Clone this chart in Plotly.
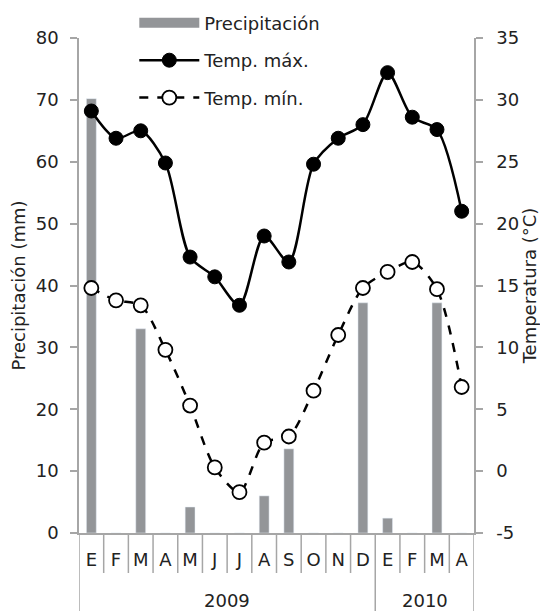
import plotly.graph_objects as go

months = ["E", "F", "M", "A", "M", "J", "J", "A", "S", "O", "N", "D", "E", "F", "M", "A"]
years = ["2009", "2010"]
year_counts = [12, 4]
precip = [70.2, 0, 33.0, 0, 4.2, 0, 0, 6.0, 13.6, 0, 0, 37.2, 2.4, 0, 37.2, 0]
tmax = [29.1, 26.9, 27.5, 24.9, 17.3, 15.7, 13.4, 19.0, 16.9, 24.8, 26.9, 28.0, 32.2, 28.6, 27.6, 21.0]
tmin = [14.8, 13.8, 13.4, 9.8, 5.3, 0.3, -1.7, 2.3, 2.8, 6.5, 11.0, 14.8, 16.1, 16.9, 14.7, 6.8]
temp_ticks = [-5, 0, 5, 10, 15, 20, 25, 30, 35]
temp_ticktext = ["-5", "0", "5", "10", "15", "20", "25", "30", "35"]

FONT = "DejaVu Sans"
GRAY = "#a6a6a6"
BARC = "#939598"
idx = list(range(len(months)))

fig = go.Figure()
fig.add_trace(go.Bar(x=idx, y=precip, name="Precipitación", marker_color=BARC,
                     width=0.4, showlegend=False))
# legend proxy for the bar series (wide swatch like the reference)
fig.add_trace(go.Scatter(x=[None], y=[None], name="Precipitación", mode="lines", legendgroup="a",
                         line=dict(color=BARC, width=12)))
fig.add_trace(go.Scatter(x=idx, y=tmax, name="Temp. máx.", yaxis="y2", legendgroup="b",
                         mode="lines+markers", line=dict(color="black", width=2.5, shape="spline", smoothing=0.8),
                         marker=dict(color="black", size=14, line=dict(color="black", width=1))))
fig.add_trace(go.Scatter(x=idx, y=tmin, name="Temp. mín.", yaxis="y2", legendgroup="c",
                         mode="lines+markers", line=dict(color="black", width=2.5, dash="dash", shape="spline", smoothing=0.8),
                         marker=dict(color="white", size=14, line=dict(color="black", width=1.8))))

# page is drawn with an 8px body margin; figure pixel = page pixel - 8
H = 495.0
def py(page_y):
    return (533 - page_y) / H

n = len(months)
shapes = []
long_edges = []
start = 0
for cnt in year_counts:
    long_edges.append(start - 0.5)
    start += cnt
long_edges.append(start - 0.5)
for k in range(n + 1):
    b = k - 0.5
    y1 = py(611) if b in long_edges else py(573)
    shapes.append(dict(type="line", xref="x", yref="paper", x0=b, x1=b,
                       y0=0, y1=y1, line=dict(color=GRAY, width=1.5)))
annotations = []
start = 0
for yr, cnt in zip(years, year_counts):
    annotations.append(dict(text=yr, xref="x", yref="paper", x=start + (cnt - 1) / 2, y=py(600),
                            showarrow=False, font=dict(size=18, family=FONT, color="#222"),
                            yanchor="middle"))
    start += cnt

fig.update_layout(
    width=540, height=603,
    margin=dict(l=71, r=74, t=30, b=78, autoexpand=False),
    paper_bgcolor="white", plot_bgcolor="white",
    font=dict(family=FONT, size=18, color="#222"),
    showlegend=True,
    legend=dict(x=0.14, y=1.0675, xanchor="left", yanchor="top", bgcolor="rgba(0,0,0,0)",
                font=dict(size=18), tracegroupgap=11, itemwidth=60),
    shapes=shapes, annotations=annotations,
    xaxis=dict(range=[-0.5, n - 0.5], tickvals=idx, ticktext=months, ticks="",
               showline=True, linecolor=GRAY, linewidth=1.5, showgrid=False, zeroline=False,
               tickfont=dict(size=18), ticklabelstandoff=10),
    yaxis=dict(range=[0, 80], dtick=10, showline=True, linecolor=GRAY, linewidth=1.5,
               ticks="outside", ticklen=7, tickcolor=GRAY, tickwidth=1.5, showgrid=False, zeroline=False,
               ticklabelstandoff=8,
               title=dict(text="Precipitación (mm)", font=dict(size=18), standoff=6)),
    yaxis2=dict(range=[-5, 35], tickvals=temp_ticks, ticktext=temp_ticktext, overlaying="y", side="right",
                showline=True, linecolor=GRAY, ticklabelstandoff=10,
                linewidth=1.5, ticks="outside", ticklen=7, tickcolor=GRAY, tickwidth=1.5, showgrid=False,
                zeroline=False, title=dict(text="Temperatura (°C)", font=dict(size=18), standoff=2)),
)
fig.write_html("out.html")
